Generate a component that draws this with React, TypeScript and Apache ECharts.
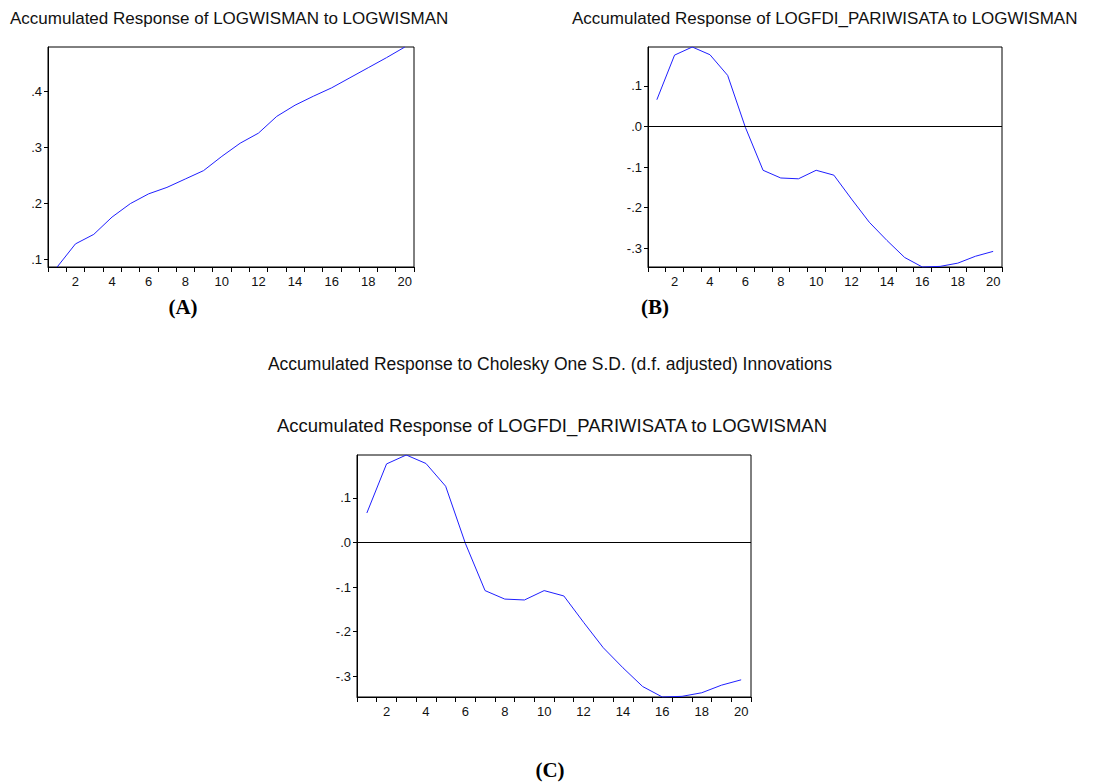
import React, { useEffect, useRef } from "react";
import * as echarts from "echarts";

const periods = ["1","2","3","4","5","6","7","8","9","10","11","12","13","14","15","16","17","18","19","20"];
const wismanResponse = [0.0857, 0.127, 0.144, 0.175, 0.199, 0.2165, 0.228, 0.243, 0.258, 0.2835, 0.307, 0.325, 0.355, 0.375, 0.391, 0.406, 0.424, 0.442, 0.460, 0.479];
const fdiResponse = [0.066, 0.176, 0.196, 0.177, 0.126, -0.002, -0.108, -0.127, -0.129, -0.108, -0.120, -0.179, -0.236, -0.281, -0.323, -0.3465, -0.345, -0.337, -0.320, -0.308];
const ticksA = [0.1, 0.2, 0.3, 0.4];
const ticksB = [-0.3, -0.2, -0.1, 0.0, 0.1];

const mainTitle = "Accumulated Response to Cholesky One S.D. (d.f. adjusted) Innovations";
const titleA = "Accumulated Response of LOGWISMAN to LOGWISMAN";
const titleB = "Accumulated Response of LOGFDI_PARIWISATA to LOGWISMAN";
const titleC = "Accumulated Response of LOGFDI_PARIWISATA to LOGWISMAN";

const FONT = "'Liberation Sans', Arial, sans-serif";
const fmt = (v: number) => {
  const s = v.toFixed(1);
  return s.replace("0.", ".");
};

function xAxisFor(gridIndex: number) {
  return {
    type: "category",
    gridIndex,
    data: periods,
    boundaryGap: true,
    axisLine: { show: true, onZero: false, lineStyle: { color: "#000", width: 1 } },
    axisTick: { show: true, interval: 0, length: 5, lineStyle: { color: "#000" } },
    axisLabel: {
      interval: (i: number) => i % 2 === 1,
      color: "#111",
      fontSize: 13,
      fontFamily: FONT,
      margin: 8,
    },
    splitLine: { show: false },
  };
}

function yAxisFor(gridIndex: number, ticks: number[]) {
  return {
    type: "value",
    gridIndex,
    min: "dataMin",
    max: "dataMax",
    axisLine: { show: true, onZero: false, lineStyle: { color: "#000", width: 1 } },
    axisTick: { show: true, length: 4, customValues: ticks, lineStyle: { color: "#000" } },
    axisLabel: {
      customValues: ticks,
      formatter: (v: number) => fmt(v),
      color: "#111",
      fontSize: 13,
      fontFamily: FONT,
      margin: 6,
    },
    splitLine: { show: false },
  };
}

function lineSeries(idx: number, data: number[], zero: boolean) {
  const s: any = {
    type: "line",
    xAxisIndex: idx,
    yAxisIndex: idx,
    data,
    showSymbol: false,
    symbol: "none",
    lineStyle: { color: "#1f1fff", width: 1 },
    itemStyle: { color: "#1f1fff" },
  };
  if (zero) {
    s.markLine = {
      silent: true,
      symbol: "none",
      label: { show: false },
      lineStyle: { color: "#000", width: 1, type: "solid" },
      data: [{ yAxis: 0 }],
    };
  }
  return s;
}

export default function App() {
  const ref = useRef<HTMLDivElement>(null);
  useEffect(() => {
    if (!ref.current) return;
    const chart = echarts.init(ref.current, undefined, { renderer: "svg" });
    const gridBase = { show: true, borderColor: "#000", borderWidth: 1, backgroundColor: "#fff", containLabel: false };
    chart.setOption({
      animation: false,
      backgroundColor: "#fff",
      grid: [
        { ...gridBase, left: 48, top: 47, width: 366, height: 220 },
        { ...gridBase, left: 648, top: 47, width: 354, height: 220 },
        { ...gridBase, left: 357, top: 455, width: 394, height: 242 },
      ],
      xAxis: [xAxisFor(0), xAxisFor(1), xAxisFor(2)],
      yAxis: [yAxisFor(0, ticksA), yAxisFor(1, ticksB), yAxisFor(2, ticksB)],
      series: [
        lineSeries(0, wismanResponse, false),
        lineSeries(1, fdiResponse, true),
        lineSeries(2, fdiResponse, true),
      ],
      graphic: [
        { type: "text", left: 10, top: 10, style: { text: titleA, font: `17px ${FONT}`, fill: "#111" } },
        { type: "text", left: 572, top: 10, style: { text: titleB, font: `17px ${FONT}`, fill: "#111" } },
        { type: "text", x: 550, y: 364, style: { text: mainTitle, font: `17.5px ${FONT}`, fill: "#111", textAlign: "center", textVerticalAlign: "middle" } },
        { type: "text", x: 552, y: 425, style: { text: titleC, font: `18.5px ${FONT}`, fill: "#111", textAlign: "center", textVerticalAlign: "middle" } },
        { type: "text", x: 183, y: 307, style: { text: "(A)", font: `bold 21px 'Liberation Serif', 'Times New Roman', serif`, fill: "#000", textAlign: "center", textVerticalAlign: "middle" } },
        { type: "text", x: 655, y: 307, style: { text: "(B)", font: `bold 21px 'Liberation Serif', 'Times New Roman', serif`, fill: "#000", textAlign: "center", textVerticalAlign: "middle" } },
        { type: "text", x: 550, y: 770, style: { text: "(C)", font: `bold 21px 'Liberation Serif', 'Times New Roman', serif`, fill: "#000", textAlign: "center", textVerticalAlign: "middle" } },
      ],
    });
    return () => chart.dispose();
  }, []);
  return (
    <div
      ref={ref}
      style={{ position: "absolute", left: 0, top: 0, width: 1099, height: 784, background: "#fff" }}
    />
  );
}
